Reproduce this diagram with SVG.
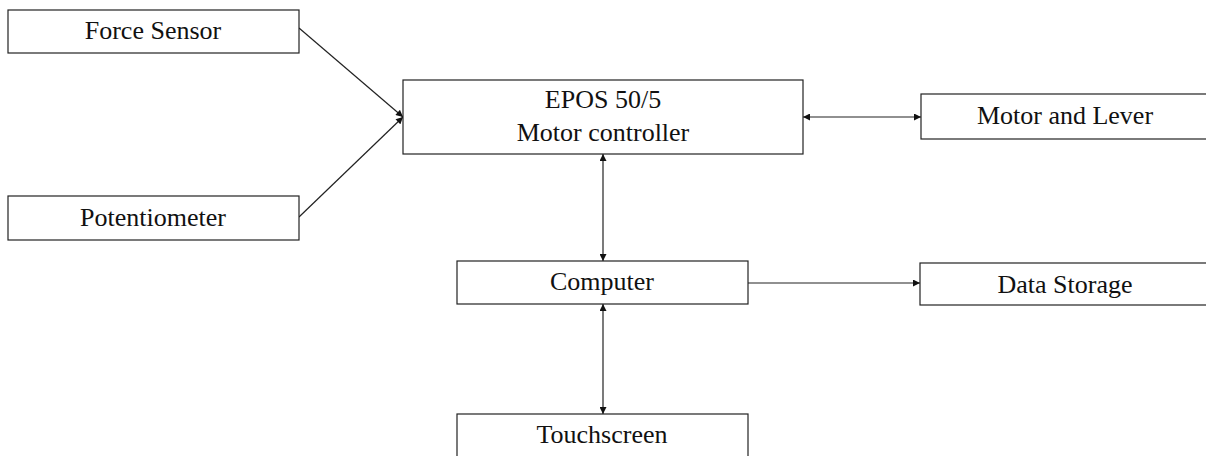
<svg xmlns="http://www.w3.org/2000/svg" width="1206" height="456" viewBox="0 0 1206 456">
<style>
.box{fill:#fff;stroke:#222;stroke-width:1.2}
.lbl{font-family:"Liberation Serif","Times New Roman",serif;font-size:26px;fill:#111;text-anchor:middle}
.con{fill:none;stroke:#222;stroke-width:1.2}
</style>
<defs>
<marker id="ah" viewBox="0 0 10 10" refX="10" refY="5" markerWidth="8" markerHeight="7" markerUnits="userSpaceOnUse" orient="auto-start-reverse">
<path d="M0,0 L10,5 L0,10 z" fill="#111"/>
</marker>
</defs>
<rect width="1206" height="456" fill="#fff"/>
<g id="connectors">
<line class="con" x1="299" y1="28" x2="403" y2="117" marker-end="url(#ah)"/>
<line class="con" x1="299" y1="217" x2="403" y2="117" marker-end="url(#ah)"/>
<line class="con" x1="803" y1="117" x2="921" y2="117" marker-start="url(#ah)" marker-end="url(#ah)"/>
<line class="con" x1="603" y1="154" x2="603" y2="261" marker-start="url(#ah)" marker-end="url(#ah)"/>
<line class="con" x1="748" y1="283" x2="920" y2="283" marker-end="url(#ah)"/>
<line class="con" x1="603" y1="304" x2="603" y2="414" marker-start="url(#ah)" marker-end="url(#ah)"/>
</g>
<g id="force-sensor">
<rect class="box" x="8" y="10" width="291" height="43"/>
<text class="lbl" x="153" y="39">Force Sensor</text>
</g>
<g id="potentiometer">
<rect class="box" x="8" y="196" width="291" height="44"/>
<text class="lbl" x="153" y="226">Potentiometer</text>
</g>
<g id="epos">
<rect class="box" x="403" y="80" width="400" height="74"/>
<text class="lbl" x="603" y="108">EPOS 50/5</text>
<text class="lbl" x="603" y="141">Motor controller</text>
</g>
<g id="motor-lever">
<rect class="box" x="921" y="94" width="291" height="45"/>
<text class="lbl" x="1065" y="124">Motor and Lever</text>
</g>
<g id="computer">
<rect class="box" x="457" y="261" width="291" height="43"/>
<text class="lbl" x="602" y="290">Computer</text>
</g>
<g id="data-storage">
<rect class="box" x="920" y="263" width="291" height="42"/>
<text class="lbl" x="1065" y="293">Data Storage</text>
</g>
<g id="touchscreen">
<rect class="box" x="457" y="414" width="291" height="50"/>
<text class="lbl" x="602" y="443">Touchscreen</text>
</g>
</svg>
